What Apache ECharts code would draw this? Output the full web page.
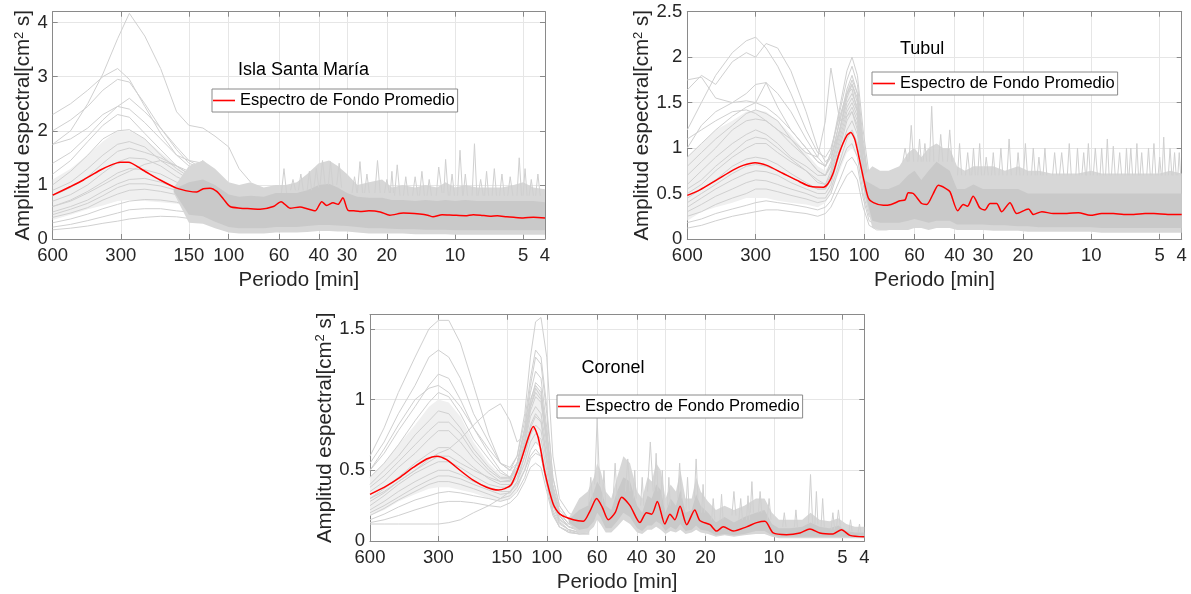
<!DOCTYPE html>
<html><head><meta charset="utf-8">
<script src="https://cdn.jsdelivr.net/npm/echarts@6/dist/echarts.min.js"></script>
<style>html,body{margin:0;padding:0;background:#fff}#c{width:1191px;height:594px}</style>
</head><body><div id="c"></div><script>
// ---------- tick labels ----------
const xTickPeriods = [600, 300, 150, 100, 60, 40, 30, 20, 10, 5, 4];
const legendName = 'Espectro de Fondo Promedio';
const panelTitles = ['Isla Santa María', 'Tubul', 'Coronel'];

// ---------- Panel 1: Isla Santa María ----------
const p1RedPeriods = [600,500,439,371,330,302,278,239,201,170,149,138.5,129.5,121,113,105.6,98.7,89,80,72.7,63.5,58.7,53.6,48.4,45.1,41.5,38.8,36.9,34.6,32.9,31.3,29.7,28,26.3,24,21.4,19.4,16.9,14.3,13.2,12.5,11.4,10.2,9,8.3,7.7,7,6.5,5.9,5.5,5.0,4.5,4];
const p1RedValues = [0.81,0.97,1.09,1.27,1.37,1.42,1.42,1.27,1.09,0.94,0.88,0.87,0.93,0.94,0.88,0.74,0.60,0.57,0.56,0.55,0.60,0.69,0.57,0.59,0.56,0.52,0.69,0.62,0.67,0.64,0.76,0.53,0.52,0.51,0.52,0.50,0.44,0.48,0.46,0.44,0.41,0.45,0.44,0.43,0.45,0.44,0.42,0.43,0.41,0.40,0.39,0.40,0.39];
const p1LinePeriods = [600,500,420,360,310,275,235,200,170,150,130,115,100,90,80];
const p1Lines = [
 [1.75,2.0,2.5,3.05,3.7,4.17,3.75,3.15,2.35,2.1,2.05,1.9,1.7,1.3,1.05],
 [2.3,2.5,2.75,3.0,3.15,2.95,2.45,1.95,1.55,1.35,1.25,1.05,0.85,0.7,0.6],
 [2.0,2.2,2.45,2.75,2.95,2.9,2.5,2.05,1.65,1.4,1.3,1.1,0.8,0.65,0.6],
 [1.75,1.85,2.05,2.3,2.45,2.4,2.15,1.85,1.55,1.45,1.4,1.15,0.9,0.7,0.65],
 [1.2,1.45,1.8,2.1,2.3,2.25,1.95,1.65,1.35,1.2,1.15,0.95,0.75,0.6,0.55],
 [1.0,1.25,1.55,1.85,2.0,2.02,1.85,1.55,1.3,1.15,1.05,0.9,0.7,0.55,0.5],
 [0.9,1.05,1.3,1.55,1.75,1.8,1.7,1.45,1.25,1.1,1.0,0.85,0.65,0.5,0.45],
 [0.7,0.82,1.0,1.22,1.42,1.5,1.48,1.35,1.15,1.05,0.95,0.8,0.6,0.45,0.4],
 [0.6,0.72,0.88,1.05,1.22,1.3,1.28,1.2,1.05,0.95,0.9,0.75,0.55,0.42,0.35],
 [0.5,0.6,0.72,0.88,1.02,1.1,1.12,1.05,0.95,0.88,0.82,0.68,0.5,0.38,0.3],
 [0.4,0.48,0.58,0.72,0.83,0.9,0.92,0.88,0.82,0.78,0.72,0.58,0.42,0.32,0.25],
 [0.3,0.37,0.46,0.56,0.64,0.7,0.73,0.72,0.68,0.62,0.56,0.46,0.35,0.26,0.2],
 [0.22,0.27,0.34,0.41,0.48,0.54,0.56,0.56,0.52,0.5,0.46,0.36,0.26,0.2,0.15],
 [0.17,0.2,0.24,0.29,0.33,0.37,0.4,0.42,0.41,0.38,0.35,0.28,0.2,0.15,0.12],
 [0.6,0.7,0.85,1.0,1.15,1.25,1.38,1.45,1.35,1.25,1.45,1.2,0.7,0.5,0.45],
 [1.4,1.6,1.9,2.2,2.45,2.6,2.35,2.05,1.7,1.45,1.3,1.1,0.9,0.75,0.7],
 [0.8,0.95,1.15,1.4,1.62,1.68,1.6,1.5,1.35,1.2,1.1,0.95,0.75,0.55,0.5],
 [0.45,0.55,0.66,0.8,0.95,1.02,1.02,0.98,0.9,0.82,0.78,0.62,0.45,0.35,0.3]
];
const p1HazePeriods = [600,500,420,360,310,275,235,200,170,150];
const p1HazeLow  = [0.35,0.45,0.55,0.62,0.7,0.72,0.7,0.68,0.65,0.6];
const p1HazeHigh = [1.1,1.3,1.55,1.8,2.0,2.0,1.85,1.6,1.35,1.2];
const p1BandPeriods = [175,150,130,115,100,90,80,70,62,56,50,45,40,36,33,30,27,24,21,19,17,15,13.5,12,11,10,9,8,7,6.2,5.5,5,4.5,4];
const p1OuterLow  = [0.85,0.3,0.28,0.2,0.12,0.1,0.1,0.1,0.12,0.12,0.12,0.13,0.15,0.15,0.14,0.14,0.12,0.1,0.1,0.1,0.1,0.09,0.09,0.09,0.09,0.08,0.08,0.08,0.08,0.08,0.08,0.08,0.08,0.08];
const p1OuterHigh = [0.95,1.35,1.45,1.3,1.05,1.0,1.05,0.95,1.0,1.0,1.05,1.2,1.4,1.45,1.35,1.2,1.0,1.05,1.1,0.95,1.0,0.95,1.0,0.95,1.05,0.95,1.0,0.95,0.95,0.95,1.0,1.05,0.95,0.92];
const p1CoreLow   = [0.88,0.45,0.42,0.32,0.22,0.2,0.2,0.2,0.22,0.22,0.22,0.24,0.26,0.26,0.25,0.24,0.22,0.2,0.2,0.19,0.18,0.18,0.17,0.17,0.17,0.16,0.16,0.16,0.16,0.16,0.16,0.16,0.16,0.16];
const p1CoreHigh  = [0.92,1.05,1.1,1.0,0.82,0.78,0.8,0.78,0.85,0.85,0.85,0.9,1.0,1.02,0.95,0.85,0.78,0.76,0.76,0.72,0.72,0.7,0.72,0.7,0.72,0.7,0.72,0.7,0.7,0.7,0.7,0.7,0.7,0.68];
const p1SpikePeriods = [58.5,57,55.5,45,44,43,39.5,38.5,37.5,36.3,35.5,34.7,33.3,32.5,31.7,27,26.3,25.6,22.6,22,21.4,18.5,18,17.5,15.4,15,14.6,12.1,11.8,11.4,11.2,11,10.7,9.75,9.5,9.25,8.4,8.2,8.0,6.85,6.7,6.55,5.32,5.2,5.08,4.7,4.6,4.5];
const p1SpikeValues  = [0.85,1.3,0.85,0.9,1.25,0.9,1.0,1.45,1.0,1.0,1.43,1.0,1.0,1.4,0.95,0.85,1.43,0.85,0.85,1.45,0.85,0.8,1.37,0.8,0.8,1.15,0.8,0.8,1.33,0.85,0.85,1.47,0.8,0.8,1.64,0.8,0.8,1.76,0.8,0.8,1.3,0.8,0.8,1.5,0.8,0.8,1.1,0.8];
const p1Spike2Periods = [53.3,52,50.7,49.2,48,46.8,42,41,40,28.5,27.8,27.1,25.1,24.5,23.9,20.5,20,19.5,19.3,19,18.7,16.9,16.5,16.1,14.35,14,13.65,13.3,13,12.7,10.55,10.3,10.05,9.2,9.0,8.8,7.9,7.7,7.5,7.4,7.25,7.1,6.35,6.2,6.05,5.85,5.7,5.55,5.0,4.9,4.8,4.4,4.3,4.2];
const p1Spike2Values  = [0.9,1.1,0.9,0.9,1.2,0.9,0.95,1.3,0.95,0.85,1.15,0.85,0.85,1.2,0.85,0.85,1.1,0.85,0.85,1.25,0.85,0.8,1.15,0.8,0.8,1.25,0.8,0.8,1.1,0.8,0.8,1.2,0.8,0.8,1.2,0.8,0.8,1.1,0.8,0.8,1.25,0.8,0.8,1.2,0.8,0.8,1.15,0.8,0.8,1.3,0.8,0.8,1.2,0.8];

// ---------- Panel 2: Tubul ----------
const p2RedPeriods = [600,528,445,376,341,302,268,227,192,173,151,144,137,128,119,114.5,109.7,102.5,95.8,91,82.3,76,69.5,66,63.9,60.7,55.8,53,49.6,47.1,44,41.9,38.7,36.6,35.1,33.1,30.9,29.4,27.9,26.1,24.8,22.8,21.3,18.9,18,16.5,14.7,12.8,11.4,10.1,9,8,7.2,6.5,5.8,5.3,4.6,4];
const p2RedValues = [0.48,0.54,0.65,0.76,0.81,0.84,0.81,0.72,0.63,0.58,0.57,0.61,0.72,0.96,1.14,1.17,1.09,0.76,0.45,0.40,0.37,0.38,0.42,0.43,0.51,0.50,0.39,0.38,0.50,0.59,0.56,0.52,0.31,0.38,0.36,0.47,0.34,0.32,0.39,0.39,0.30,0.40,0.28,0.33,0.27,0.30,0.28,0.28,0.29,0.26,0.28,0.28,0.27,0.27,0.28,0.28,0.27,0.27];
const p2LinePeriods = [600,520,450,380,330,300,270,240,210,180,160,148,140,128,119,113,107,101,95,88,80,70];
const p2Lines = [
 [1.2,1.5,1.8,2.05,2.18,2.22,2.1,1.9,1.6,1.2,0.95,0.9,1.0,1.35,1.6,1.7,1.5,1.0,0.6,0.5,0.45,0.5],
 [1.64,1.8,1.7,1.95,2.05,2.0,2.15,2.1,1.85,1.4,1.0,0.85,0.9,1.2,1.6,1.75,1.6,1.0,0.6,0.45,0.4,0.45],
 [1.75,1.78,1.55,1.5,1.6,1.7,1.72,1.6,1.4,1.1,0.9,0.8,0.95,1.45,1.85,2.0,1.8,1.2,0.7,0.5,0.4,0.4],
 [0.9,1.05,1.2,1.35,1.45,1.5,1.45,1.35,1.2,1.0,0.85,0.8,0.95,1.4,1.75,1.9,1.7,1.1,0.6,0.4,0.35,0.4],
 [0.8,0.95,1.1,1.25,1.38,1.42,1.38,1.3,1.1,0.9,0.75,0.7,0.8,1.2,1.55,1.7,1.55,1.0,0.55,0.4,0.3,0.35],
 [0.6,0.75,0.9,1.05,1.15,1.2,1.15,1.05,0.9,0.8,0.7,0.7,0.85,1.3,1.6,1.65,1.4,0.85,0.5,0.35,0.3,0.35],
 [0.5,0.6,0.75,0.9,1.0,1.05,1.05,0.95,0.85,0.75,0.65,0.6,0.7,1.1,1.4,1.5,1.35,0.85,0.45,0.3,0.25,0.3],
 [0.45,0.55,0.65,0.8,0.88,0.9,0.88,0.82,0.72,0.62,0.55,0.55,0.65,1.0,1.3,1.4,1.25,0.75,0.4,0.3,0.25,0.3],
 [0.35,0.45,0.55,0.65,0.72,0.75,0.74,0.7,0.62,0.55,0.5,0.5,0.6,0.95,1.2,1.3,1.15,0.7,0.35,0.25,0.2,0.25],
 [0.3,0.38,0.47,0.55,0.62,0.65,0.64,0.6,0.55,0.5,0.45,0.45,0.55,0.85,1.1,1.2,1.05,0.6,0.3,0.2,0.18,0.2],
 [0.25,0.3,0.38,0.45,0.5,0.55,0.55,0.52,0.48,0.44,0.4,0.42,0.5,0.8,1.0,1.05,0.9,0.5,0.25,0.18,0.15,0.18],
 [0.18,0.22,0.28,0.33,0.37,0.4,0.42,0.4,0.38,0.35,0.32,0.35,0.42,0.65,0.85,0.9,0.8,0.45,0.2,0.15,0.12,0.15],
 [0.12,0.15,0.2,0.25,0.28,0.3,0.32,0.32,0.3,0.28,0.25,0.28,0.35,0.55,0.7,0.75,0.65,0.35,0.15,0.1,0.1,0.12],
 [1.1,1.2,1.3,1.4,1.42,1.38,1.3,1.2,1.1,0.95,0.9,1.3,1.88,1.3,1.35,1.4,1.2,0.8,0.45,0.35,0.3,0.35],
 [1.0,1.25,1.4,1.5,1.52,1.5,1.72,1.45,1.2,1.0,0.85,0.8,0.9,1.3,1.65,1.8,1.6,1.0,0.55,0.4,0.35,0.4],
 [0.7,0.85,1.0,1.2,1.3,1.32,1.3,1.2,1.05,0.9,0.75,0.7,0.8,1.2,1.5,1.6,1.45,0.9,0.5,0.35,0.3,0.3],
 [0.55,0.65,0.8,0.95,1.08,1.12,1.1,1.0,0.88,0.75,0.62,0.6,0.75,1.15,1.45,1.55,1.4,0.9,0.45,0.3,0.25,0.28],
 [0.4,0.5,0.6,0.72,0.8,0.82,0.8,0.75,0.68,0.6,0.55,0.55,0.7,1.05,1.35,1.45,1.3,0.8,0.4,0.28,0.22,0.25]
];
const p2HazePeriods = [600,520,450,380,330,300,270,240,210,180,160,148,140,128,119,113,107,101,95];
const p2HazeLow  = [0.2,0.3,0.35,0.4,0.45,0.45,0.45,0.42,0.4,0.38,0.35,0.4,0.5,0.75,0.95,1.0,0.9,0.55,0.3];
const p2HazeHigh = [0.9,1.05,1.2,1.3,1.4,1.42,1.4,1.3,1.15,0.95,0.8,0.75,0.85,1.3,1.65,1.75,1.55,0.95,0.55];
const p2BandPeriods = [100,92,85,78,70,64,60,56,52,48,45,42,39,36,33,30,27,24,21,19,17,15,13,11.5,10,9,8,7,6.2,5.5,5,4.5,4];
const p2OuterLow  = [0.5,0.12,0.1,0.1,0.1,0.1,0.12,0.12,0.1,0.12,0.12,0.12,0.1,0.1,0.1,0.1,0.09,0.09,0.09,0.08,0.08,0.08,0.08,0.08,0.08,0.07,0.07,0.07,0.07,0.07,0.07,0.07,0.07];
const p2OuterHigh = [0.7,0.8,0.75,0.75,0.8,0.95,1.0,0.9,1.0,1.05,1.0,1.0,0.8,0.75,0.8,0.8,0.8,0.75,0.8,0.75,0.75,0.72,0.72,0.72,0.75,0.72,0.72,0.72,0.72,0.72,0.72,0.75,0.72];
const p2CoreLow   = [0.55,0.2,0.18,0.18,0.18,0.2,0.22,0.2,0.18,0.2,0.2,0.2,0.16,0.16,0.16,0.16,0.15,0.15,0.14,0.14,0.13,0.13,0.13,0.13,0.13,0.12,0.12,0.12,0.12,0.12,0.12,0.12,0.12];
const p2CoreHigh  = [0.65,0.6,0.55,0.55,0.6,0.7,0.75,0.65,0.75,0.85,0.8,0.75,0.55,0.55,0.6,0.55,0.55,0.55,0.55,0.5,0.5,0.5,0.5,0.5,0.5,0.5,0.5,0.5,0.5,0.5,0.5,0.5,0.5];
const p2SpikePeriods = [63.5,62,60.5,58,57,56,51.5,50.4,49.3,47,46,45,43,42,41,38.8,38,37.2,31.6,31,30.4,27.5,27,26.5,23.5,23,22.5,19.9,19.5,19.1,16.3,16,15.7,13.8,13.5,13.2,11.7,11.5,11.3,10.5,10.3,10.1,9.15,9,8.85,8.15,8,7.85,7.1,7,6.9,6.4,6.3,6.2,5.7,5.6,5.5,4.88,4.8,4.72,4.37,4.3,4.23];
const p2SpikeValues  = [0.85,1.25,0.85,0.85,1.1,0.85,0.85,1.46,0.85,0.85,1.15,0.85,0.85,1.2,0.85,0.7,1.05,0.7,0.7,1.05,0.7,0.7,0.95,0.7,0.7,1.1,0.7,0.7,1.05,0.7,0.7,1.0,0.7,0.7,0.95,0.7,0.7,1.0,0.7,0.7,1.05,0.7,0.7,1.0,0.7,0.7,1.02,0.7,0.7,1.0,0.7,0.7,1.05,0.7,0.7,1.0,0.7,0.7,1.12,0.7,0.7,0.95,0.7];
const p2Spike2Periods = [67.5,66,64.5,55,54,53,35.8,35,34.2,33.6,33,32.4,29.6,29,28.4,25.5,25,24.5,21.4,21,20.6,18.35,18,17.65,17.3,17,16.7,14.8,14.5,14.2,12.75,12.5,12.25,11.0,10.8,10.6,9.8,9.6,9.4,8.65,8.5,8.35,7.65,7.5,7.35,6.82,6.7,6.58,6.1,6.0,5.9,5.4,5.3,5.2,5.08,5.0,4.92,4.58,4.5,4.42,4.16,4.1,4.04];
const p2Spike2Values  = [0.85,1.0,0.85,0.85,1.05,0.85,0.7,0.95,0.7,0.7,1.0,0.7,0.7,0.9,0.7,0.7,1.0,0.7,0.7,0.95,0.7,0.7,1.0,0.7,0.7,0.9,0.7,0.7,0.95,0.7,0.7,1.05,0.7,0.7,0.95,0.7,0.7,1.0,0.7,0.7,1.1,0.7,0.7,0.95,0.7,0.7,1.0,0.7,0.7,0.95,0.7,0.7,1.05,0.7,0.7,0.9,0.7,0.7,1.0,0.7,0.7,0.95,0.7];

// ---------- Panel 3: Coronel ----------
const p3RedPeriods = [600,507,443,387,338,305,276,241,211,184,163.5,153,143,131,120.6,114.7,109,101.8,93.6,87.5,76.4,69,64.6,60.3,57,53.6,50,46.8,43,38.9,36.4,34.5,32.6,30.2,28.7,27.3,25.9,24.2,22.3,21.2,19.1,17.9,16.7,15.1,13.2,11.9,10.95,10.07,8.8,7.68,6.94,6.28,5.49,5.04,4.63,4];
const p3RedValues = [0.33,0.39,0.45,0.52,0.58,0.60,0.575,0.50,0.43,0.38,0.36,0.37,0.40,0.55,0.73,0.81,0.73,0.48,0.26,0.19,0.15,0.14,0.21,0.30,0.24,0.15,0.20,0.31,0.25,0.13,0.20,0.19,0.28,0.12,0.19,0.15,0.245,0.115,0.22,0.145,0.115,0.07,0.10,0.07,0.10,0.13,0.14,0.057,0.045,0.057,0.085,0.057,0.05,0.08,0.04,0.03];
const p3LinePeriods = [600,520,450,380,330,300,270,240,210,180,160,145,135,125,118,112,106,100,94,88,80,72,65];
const p3Lines = [
 [0.6,0.8,1.05,1.3,1.5,1.56,1.56,1.4,1.1,0.75,0.55,0.5,0.6,0.9,1.3,1.55,1.58,1.3,0.6,0.3,0.2,0.15,0.2],
 [0.55,0.7,0.9,1.1,1.3,1.35,1.3,1.15,0.9,0.7,0.55,0.5,0.55,0.8,1.1,1.3,1.25,0.9,0.45,0.25,0.15,0.12,0.15],
 [0.5,0.62,0.78,0.95,1.1,1.18,1.15,1.0,0.8,0.62,0.5,0.45,0.55,0.8,1.05,1.2,1.15,0.8,0.4,0.22,0.15,0.12,0.15],
 [0.45,0.55,0.68,0.85,0.98,1.05,1.02,0.9,0.72,0.58,0.48,0.45,0.55,0.78,1.0,1.1,1.05,0.75,0.38,0.2,0.12,0.1,0.12],
 [0.4,0.5,0.6,0.75,0.85,0.92,0.9,0.8,0.65,0.52,0.45,0.45,0.5,0.7,0.92,1.02,0.98,0.7,0.35,0.2,0.12,0.1,0.12],
 [0.35,0.42,0.52,0.62,0.72,0.78,0.78,0.7,0.58,0.48,0.42,0.42,0.5,0.68,0.88,0.95,0.9,0.65,0.32,0.18,0.1,0.08,0.1],
 [0.3,0.37,0.45,0.55,0.62,0.66,0.66,0.6,0.52,0.44,0.4,0.4,0.48,0.65,0.82,0.9,0.85,0.6,0.3,0.16,0.1,0.08,0.1],
 [0.25,0.32,0.4,0.48,0.53,0.56,0.56,0.52,0.46,0.4,0.38,0.38,0.45,0.6,0.75,0.82,0.78,0.55,0.28,0.15,0.1,0.07,0.08],
 [0.22,0.28,0.35,0.42,0.47,0.5,0.5,0.47,0.42,0.38,0.35,0.35,0.42,0.55,0.7,0.76,0.72,0.5,0.25,0.13,0.08,0.06,0.07],
 [0.18,0.23,0.29,0.35,0.4,0.42,0.42,0.4,0.37,0.33,0.3,0.32,0.38,0.5,0.64,0.7,0.66,0.45,0.22,0.12,0.08,0.06,0.07],
 [0.15,0.19,0.24,0.29,0.32,0.34,0.35,0.34,0.32,0.3,0.28,0.3,0.35,0.45,0.58,0.62,0.6,0.4,0.2,0.1,0.07,0.05,0.06],
 [0.13,0.15,0.18,0.22,0.25,0.27,0.28,0.28,0.27,0.25,0.24,0.27,0.32,0.42,0.52,0.55,0.52,0.35,0.18,0.1,0.06,0.05,0.05],
 [0.12,0.12,0.12,0.12,0.12,0.12,0.13,0.15,0.2,0.25,0.3,0.35,0.4,0.5,0.6,0.65,0.6,0.4,0.2,0.1,0.06,0.05,0.05],
 [0.3,0.35,0.42,0.5,0.58,0.62,0.65,0.72,0.82,0.92,0.97,0.85,0.7,0.75,0.95,1.05,1.0,0.7,0.35,0.2,0.12,0.1,0.12],
 [0.5,0.65,0.82,1.0,1.08,1.1,1.05,0.95,0.8,0.65,0.55,0.52,0.6,0.85,1.15,1.35,1.3,0.95,0.45,0.25,0.15,0.12,0.14],
 [0.28,0.34,0.42,0.5,0.56,0.6,0.6,0.55,0.5,0.45,0.42,0.43,0.55,0.75,0.98,1.12,1.08,0.75,0.35,0.18,0.1,0.08,0.1],
 [0.38,0.46,0.56,0.68,0.78,0.84,0.84,0.76,0.62,0.5,0.44,0.44,0.52,0.72,0.95,1.08,1.02,0.72,0.34,0.18,0.1,0.08,0.1],
 [0.2,0.25,0.31,0.38,0.43,0.46,0.46,0.44,0.4,0.36,0.33,0.34,0.42,0.6,0.8,0.88,0.84,0.58,0.28,0.14,0.08,0.06,0.07]
];
const p3HazePeriods = [600,520,450,380,330,300,270,240,210,180,160,145,135,125,118,112,106,100,94];
const p3HazeLow  = [0.18,0.22,0.28,0.33,0.37,0.38,0.38,0.36,0.34,0.3,0.28,0.3,0.36,0.5,0.65,0.7,0.66,0.45,0.22];
const p3HazeHigh = [0.45,0.55,0.68,0.82,0.95,1.0,0.98,0.88,0.7,0.55,0.47,0.45,0.52,0.75,1.0,1.1,1.05,0.75,0.38];
const p3BandPeriods = [80,72,66,62,60,58,55,52,49,46,43,40,38,36,34.5,33,31.5,30,28.5,27,25.8,24.5,23,22,21,19.5,18,16.5,15,13.5,12,11,10.2,9.5,8.5,7.5,6.9,6.3,5.7,5.2,4.8,4.4,4];
const p3OuterLow  = [0.12,0.05,0.06,0.1,0.15,0.12,0.06,0.06,0.1,0.15,0.12,0.06,0.05,0.08,0.08,0.1,0.08,0.05,0.07,0.06,0.08,0.05,0.06,0.08,0.06,0.05,0.03,0.04,0.03,0.04,0.05,0.05,0.03,0.02,0.02,0.02,0.02,0.02,0.02,0.02,0.02,0.02,0.02];
const p3OuterHigh = [0.16,0.3,0.35,0.45,0.55,0.5,0.35,0.3,0.45,0.6,0.55,0.35,0.3,0.45,0.42,0.55,0.5,0.3,0.4,0.35,0.5,0.3,0.3,0.45,0.35,0.28,0.22,0.25,0.22,0.25,0.3,0.3,0.2,0.15,0.15,0.15,0.2,0.15,0.14,0.16,0.12,0.1,0.1];
const p3CoreLow   = [0.13,0.08,0.09,0.14,0.2,0.17,0.09,0.09,0.14,0.2,0.17,0.09,0.07,0.11,0.11,0.14,0.12,0.07,0.1,0.08,0.12,0.07,0.08,0.11,0.08,0.07,0.04,0.05,0.04,0.05,0.07,0.07,0.04,0.03,0.03,0.03,0.03,0.03,0.03,0.03,0.03,0.03,0.03];
const p3CoreHigh  = [0.15,0.22,0.25,0.35,0.42,0.38,0.25,0.22,0.35,0.45,0.42,0.25,0.2,0.32,0.3,0.4,0.36,0.2,0.3,0.25,0.36,0.2,0.22,0.33,0.25,0.2,0.13,0.17,0.13,0.17,0.2,0.22,0.12,0.09,0.09,0.1,0.13,0.1,0.09,0.11,0.07,0.06,0.06];
const p3SpikePeriods = [61.5,60,58.5,36,35,34,33.6,33,32.4,26.5,26,25.5,22.4,22,21.6,15.3,15,14.7,12.7,12.5,12.3,11.7,11.5,11.3,7.05,6.9,6.75,6.6,6.5,6.4,5.3,5.2,5.1];
const p3SpikeValues  = [0.4,0.87,0.4,0.35,0.7,0.35,0.35,0.62,0.35,0.3,0.55,0.3,0.3,0.58,0.3,0.18,0.35,0.18,0.2,0.42,0.2,0.2,0.35,0.2,0.12,0.47,0.12,0.12,0.35,0.12,0.1,0.22,0.1];
const p3Spike2Periods = [65.5,64,62.5,57,56,55,51,50,49,45,44,43,41.6,41,40.4,38.6,38,37.4,31.5,31,30.5,29.4,29,28.6,24.4,24,23.6,20.8,20.5,20.2,18.8,18.5,18.2,17.25,17,16.75,14.25,14,13.75,13.2,13,12.8,10.7,10.5,10.3,9.15,9,8.85,8.12,8,7.88,6.2,6.1,6.0,5.6,5.5,5.4,4.67,4.6,4.53,4.26,4.2,4.14];
const p3Spike2Values  = [0.25,0.45,0.25,0.25,0.5,0.25,0.3,0.55,0.3,0.35,0.58,0.35,0.3,0.5,0.3,0.25,0.45,0.25,0.25,0.5,0.25,0.25,0.45,0.25,0.22,0.45,0.22,0.2,0.4,0.2,0.15,0.3,0.15,0.15,0.33,0.15,0.15,0.3,0.15,0.15,0.32,0.15,0.15,0.3,0.15,0.1,0.2,0.1,0.1,0.22,0.1,0.1,0.3,0.1,0.08,0.2,0.08,0.07,0.15,0.07,0.06,0.12,0.06];

// ---------- styling / layout ----------
const FONT = '"Liberation Sans", Arial, Helvetica, sans-serif';
const TEXT = '#262626';
const AXIS = '#8a8a8a';
const GRIDC = '#e6e6e6';
const GRAY = '#d0d0d0';

const panels = [
  {grid:{left:52.7, top:11.7, width:492.3, height:227.3}, yMax:4.2, yInt:1, yGap:16,
   red:[p1RedPeriods,p1RedValues], lp:p1LinePeriods, lines:p1Lines,
   haze:[p1HazePeriods,p1HazeLow,p1HazeHigh],
   band:[p1BandPeriods,p1OuterLow,p1OuterHigh,p1CoreLow,p1CoreHigh],
   spikes:[[p1SpikePeriods,p1SpikeValues],[p1Spike2Periods,p1Spike2Values]],
   title:{left:238, top:61.5}, legend:{left:212, top:89}},
  {grid:{left:687.3, top:11.7, width:494.4, height:227.3}, yMax:2.5, yInt:0.5, yGap:32,
   red:[p2RedPeriods,p2RedValues], lp:p2LinePeriods, lines:p2Lines,
   haze:[p2HazePeriods,p2HazeLow,p2HazeHigh],
   band:[p2BandPeriods,p2OuterLow,p2OuterHigh,p2CoreLow,p2CoreHigh],
   spikes:[[p2SpikePeriods,p2SpikeValues],[p2Spike2Periods,p2Spike2Values]],
   title:{left:900, top:40}, legend:{left:872, top:72}},
  {grid:{left:370, top:314.7, width:494.3, height:226.6}, yMax:1.6, yInt:0.5, yGap:32,
   red:[p3RedPeriods,p3RedValues], lp:p3LinePeriods, lines:p3Lines,
   haze:[p3HazePeriods,p3HazeLow,p3HazeHigh],
   band:[p3BandPeriods,p3OuterLow,p3OuterHigh,p3CoreLow,p3CoreHigh],
   spikes:[[p3SpikePeriods,p3SpikeValues],[p3Spike2Periods,p3Spike2Values]],
   title:{left:581.5, top:359.5}, legend:{left:557, top:395}}
];

const tickLogs = xTickPeriods.map(p => Math.log10(p));
const LMIN = Math.log10(4), LMAX = Math.log10(600);
const pairs = (ps, vs) => ps.map((p, k) => [p, vs[k]]);
function spikePairs(ps, vs) {
  const out = [];
  ps.forEach((p, k) => { if (k > 0 && k % 3 === 0) out.push([p, null]); out.push([p, vs[k]]); });
  return out;
}
// filled band between two value lists, positioned through the axes (api.coord)
function bandSeries(xi, yi, ps, lo, hi, color, z) {
  return {type:'custom', xAxisIndex:xi, yAxisIndex:yi, silent:true, z:z, animation:false,
    data: ps.map((p, k) => [p, lo[k], hi[k]]),
    encode:{x:0, y:[1, 2]},
    renderItem: function (params, api) {
      if (params.dataIndex !== 0) return null;
      const top = ps.map((p, k) => api.coord([p, hi[k]]));
      const bot = ps.map((p, k) => api.coord([p, lo[k]])).reverse();
      return {type:'polygon', shape:{points: top.concat(bot)}, style:{fill: color}};
    }};
}

const grids = [], xAxes = [], yAxes = [], series = [], titles = [], legends = [];
panels.forEach((P, i) => {
  grids.push(Object.assign({containLabel:false}, P.grid));
  xAxes.push({type:'log', logBase:10, gridIndex:i, min:4, max:600, inverse:true, show:false});
  xAxes.push({type:'value', gridIndex:i, position:'bottom', min:LMIN, max:LMAX, inverse:true,
    axisLine:{show:true, onZero:false, lineStyle:{color:AXIS, width:1}},
    axisTick:{show:true, inside:true, length:5, customValues:tickLogs, lineStyle:{color:AXIS}},
    axisLabel:{show:true, customValues:tickLogs, margin:7, fontSize:18.5, color:TEXT, fontFamily:FONT,
      formatter: v => String(Math.round(Math.pow(10, v)))},
    splitLine:{show:true, lineStyle:{color:GRIDC, width:1}},
    name:'Periodo [min]', nameLocation:'middle', nameGap:31,
    nameTextStyle:{fontSize:20.5, color:TEXT, fontFamily:FONT}});
  xAxes.push({type:'value', gridIndex:i, position:'top', min:LMIN, max:LMAX, inverse:true,
    axisLine:{show:true, onZero:false, lineStyle:{color:AXIS, width:1}},
    axisTick:{show:true, inside:true, length:5, customValues:tickLogs, lineStyle:{color:AXIS}},
    axisLabel:{show:false}, splitLine:{show:false}});
  yAxes.push({type:'value', gridIndex:i, position:'left', min:0, max:P.yMax, interval:P.yInt,
    axisLine:{show:true, onZero:false, lineStyle:{color:AXIS, width:1}},
    axisTick:{show:true, inside:true, length:5, lineStyle:{color:AXIS}},
    axisLabel:{margin:5, fontSize:18.5, color:TEXT, fontFamily:FONT},
    splitLine:{show:true, lineStyle:{color:GRIDC, width:1}},
    name:'Amplitud espectral[cm{sup|2} s]', nameLocation:'middle', nameRotate:90, nameGap:P.yGap,
    nameTextStyle:{fontSize:20.5, color:TEXT, fontFamily:FONT,
      rich:{sup:{fontSize:13, color:TEXT, fontFamily:FONT, verticalAlign:'top'}}}});
  yAxes.push({type:'value', gridIndex:i, position:'right', min:0, max:P.yMax, interval:P.yInt,
    axisLine:{show:true, onZero:false, lineStyle:{color:AXIS, width:1}},
    axisTick:{show:true, inside:true, length:5, lineStyle:{color:AXIS}},
    axisLabel:{show:false}, splitLine:{show:false}});

  const xi = i * 3, yi = i * 2;
  const base = {type:'line', xAxisIndex:xi, yAxisIndex:yi, symbol:'none', showSymbol:false, silent:true, animation:false};
  series.push(bandSeries(xi, yi, P.haze[0], P.haze[1], P.haze[2], '#f0f0f0', 1));
  P.lines.forEach((vals, k) => {
    series.push(Object.assign({}, base, {name:'g'+i+'_'+k, data:pairs(P.lp, vals),
      lineStyle:{color:GRAY, width:1}, z:2}));
  });
  const [bp, oL, oH, cL, cH] = P.band;
  P.spikes.forEach((s, k) => {
    series.push(Object.assign({}, base, {name:'sp'+i+'_'+k, data:spikePairs(s[0], s[1]),
      lineStyle:{color:'#d0d0d0', width:1}, z:3}));
  });
  series.push(bandSeries(xi, yi, bp, oL, oH, '#d7d7d7', 3));
  series.push(bandSeries(xi, yi, bp, cL, cH, '#c9c9c9', 3));
  series.push(Object.assign({}, base, {name:legendName, data:pairs(P.red[0], P.red[1]), smooth:0.25,
    color:'#ff0000', itemStyle:{color:'#ff0000'}, lineStyle:{color:'#ff0000', width:1.5}, z:5}));

  titles.push({text:panelTitles[i], left:P.title.left, top:P.title.top, padding:0,
    textStyle:{fontSize:18, fontWeight:'normal', color:'#000', fontFamily:FONT}});
  legends.push({left:P.legend.left, top:P.legend.top, data:[legendName], selectedMode:false,
    icon:'rect', itemWidth:22, itemHeight:1.6, padding:[3,3,3,1], borderColor:'#8a8a8a', borderWidth:1, borderRadius:0,
    backgroundColor:'#ffffff', textStyle:{fontSize:16.5, color:'#000', fontFamily:FONT}});
});

const chart = echarts.init(document.getElementById('c'), null, {renderer:'canvas'});
chart.setOption({animation:false, backgroundColor:'#ffffff', title:titles, legend:legends,
  grid:grids, xAxis:xAxes, yAxis:yAxes, series:series});
</script></body></html>
